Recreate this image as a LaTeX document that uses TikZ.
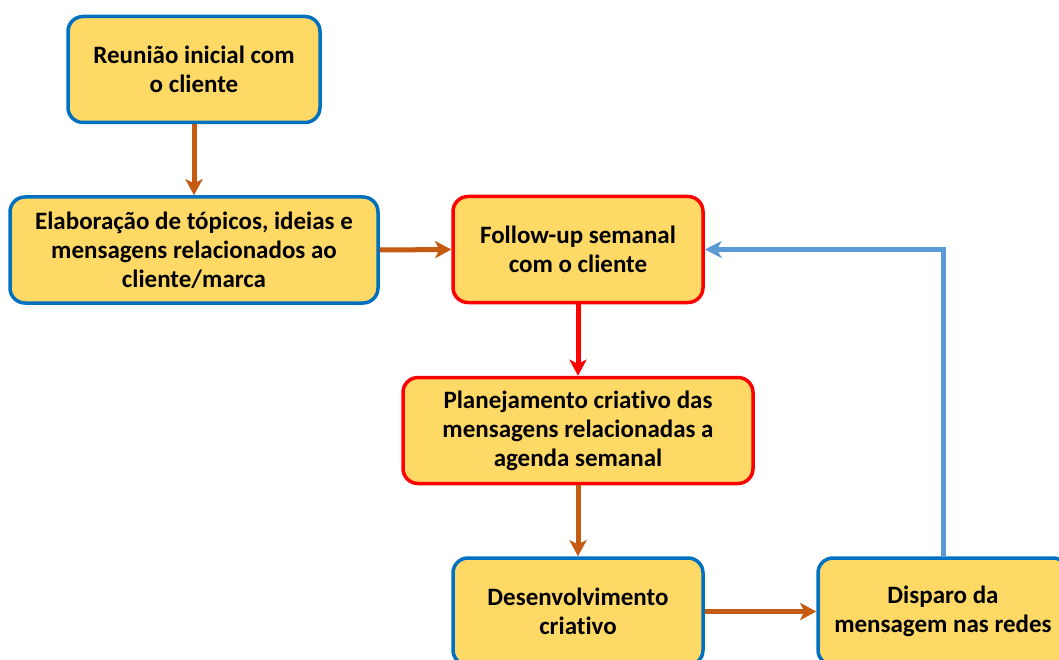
\documentclass[tikz,border=0pt]{standalone}
\usepackage{fontspec}
\setmainfont[Ligatures={NoCommon}]{Carlito}
\usetikzlibrary{arrows.meta}
\definecolor{boxfill}{HTML}{FFD966}
\definecolor{boxblue}{HTML}{0070C0}
\definecolor{boxred}{HTML}{FF0000}
\definecolor{arrbrown}{HTML}{C55A11}
\definecolor{arrblue}{HTML}{5B9BD5}
\begin{document}
\begin{tikzpicture}[x=1pt,y=-1pt,
  box/.style={draw=boxblue,fill=boxfill,line width=3.5pt,rounded corners=15pt,
    minimum height=106pt,inner sep=0pt,align=center,
    font=\fontsize{25}{29}\selectfont\bfseries},
  redbox/.style={box,draw=boxred},
  brownarr/.style={draw=arrbrown,line width=5pt,-{Stealth[length=16pt,width=17pt,inset=4pt]}},
  redarr/.style={draw=boxred,line width=5pt,-{Stealth[length=16pt,width=17pt,inset=4pt]}},
  bluearr/.style={draw=arrblue,line width=5pt,-{Stealth[length=17pt,width=17pt,inset=5pt]}}]
\useasboundingbox (0,0) rectangle (1059,660);
\node[box,minimum width=252pt] (n1) at (194,69.5) {Reunião inicial com\\o cliente};
\node[box,minimum width=368pt] (n2) at (194,250) {Elaboração de tópicos, ideias e\\mensagens relacionados ao\\cliente/marca};
\node[redbox,minimum width=250pt] (n3) at (578,249.5) {Follow-up semanal\\com o cliente};
\node[redbox,minimum width=350pt] (n4) at (578,430.5) {Planejamento criativo das\\mensagens relacionadas a\\agenda semanal};
\node[box,minimum width=250pt,minimum height=107pt] (n5) at (578,611.5) {Desenvolvimento\\criativo};
\node[box,minimum width=250pt,minimum height=107pt] (n6) at (943,611.5) {Disparo da\\mensagem nas redes};
\draw[brownarr] (n1.south) -- (n2.north);
\draw[brownarr] (n2.east) -- (n3.west);
\draw[redarr] (n3.south) -- (n4.north);
\draw[brownarr] (n4.south) -- (n5.north);
\draw[brownarr] (n5.east) -- (n6.west);
\draw[bluearr] (n6.north) |- (n3.east);
\end{tikzpicture}
\end{document}
